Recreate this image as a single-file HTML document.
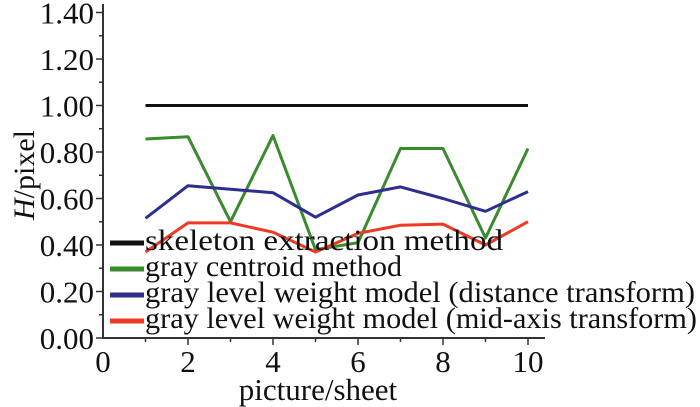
<!DOCTYPE html>
<html><head><style>body{margin:0;background:#fff}svg{display:block}text{font-family:"Liberation Serif",serif;fill:#111}</style></head><body>
<svg width="700" height="407" viewBox="0 0 700 407">
<g stroke="#333" stroke-width="2" fill="none">
<line x1="103" y1="4" x2="103" y2="339"/>
<line x1="102" y1="338" x2="545" y2="338"/>
</g>
<g stroke="#333" stroke-width="1.5">
<line x1="96" y1="338" x2="103" y2="338"/><line x1="96" y1="291.5" x2="103" y2="291.5"/><line x1="96" y1="245" x2="103" y2="245"/><line x1="96" y1="198.5" x2="103" y2="198.5"/><line x1="96" y1="152" x2="103" y2="152"/><line x1="96" y1="105.5" x2="103" y2="105.5"/><line x1="96" y1="59" x2="103" y2="59"/><line x1="96" y1="12.5" x2="103" y2="12.5"/>
<line x1="99" y1="314.75" x2="103" y2="314.75"/><line x1="99" y1="268.25" x2="103" y2="268.25"/><line x1="99" y1="221.75" x2="103" y2="221.75"/><line x1="99" y1="175.25" x2="103" y2="175.25"/><line x1="99" y1="128.75" x2="103" y2="128.75"/><line x1="99" y1="82.25" x2="103" y2="82.25"/><line x1="99" y1="35.75" x2="103" y2="35.75"/>
<line x1="188" y1="338" x2="188" y2="345"/><line x1="273" y1="338" x2="273" y2="345"/><line x1="358" y1="338" x2="358" y2="345"/><line x1="443" y1="338" x2="443" y2="345"/><line x1="528" y1="338" x2="528" y2="345"/>
<line x1="145.5" y1="338" x2="145.5" y2="342"/><line x1="230.5" y1="338" x2="230.5" y2="342"/><line x1="315.5" y1="338" x2="315.5" y2="342"/><line x1="400.5" y1="338" x2="400.5" y2="342"/><line x1="485.5" y1="338" x2="485.5" y2="342"/>
</g>
<g font-size="31" text-anchor="end">
<text x="94" y="349">0.00</text><text x="94" y="302.5">0.20</text><text x="94" y="256">0.40</text><text x="94" y="209.5">0.60</text><text x="94" y="163">0.80</text><text x="94" y="116.5">1.00</text><text x="94" y="70">1.20</text><text x="94" y="23.5">1.40</text>
</g>
<g font-size="31" text-anchor="middle">
<text x="103" y="372">0</text><text x="188" y="372">2</text><text x="273" y="372">4</text><text x="358" y="372">6</text><text x="443" y="372">8</text><text x="528" y="372">10</text>
<text x="318" y="400">picture/sheet</text>
</g>
<text font-size="30" transform="translate(34,175) rotate(-90)" text-anchor="middle"><tspan font-style="italic">H</tspan>/pixel</text>
<g fill="none" stroke-width="3" stroke-linejoin="round">
<polyline stroke="#111" points="145.5,105.5 528,105.5"/>
<polyline stroke="#3a8a2e" points="145.5,139 188,136.7 230.5,221.7 273,135.6 315.5,249.6 358,242.7 400.5,148.5 443,148.5 485.5,238 528,148.5"/>
<polyline stroke="#2e2e90" points="145.5,218.3 188,185.7 230.5,189.2 273,192.7 315.5,217.2 358,195 400.5,186.9 443,198.5 485.5,211.3 528,191.6"/>
<polyline stroke="#ee3a24" points="145.5,252 188,222.9 230.5,222.9 273,232.2 315.5,252 358,233.4 400.5,225.2 443,224.1 485.5,245 528,221.7"/>
</g>
<g stroke-width="5">
<line x1="110" y1="243" x2="144" y2="243" stroke="#111"/>
<line x1="110" y1="269" x2="144" y2="269" stroke="#3a8a2e"/>
<line x1="110" y1="295" x2="144" y2="295" stroke="#2e2e90"/>
<line x1="110" y1="321" x2="144" y2="321" stroke="#ee3a24"/>
</g>
<g font-size="30">
<text x="145" y="250" textLength="358" lengthAdjust="spacingAndGlyphs">skeleton extraction method</text>
<text x="145" y="276" textLength="257" lengthAdjust="spacingAndGlyphs">gray centroid method</text>
<text x="145" y="302" textLength="550" lengthAdjust="spacingAndGlyphs">gray level weight model (distance transform)</text>
<text x="145" y="328" textLength="552" lengthAdjust="spacingAndGlyphs">gray level weight model (mid-axis transform)</text>
</g>
</svg>
</body></html>
